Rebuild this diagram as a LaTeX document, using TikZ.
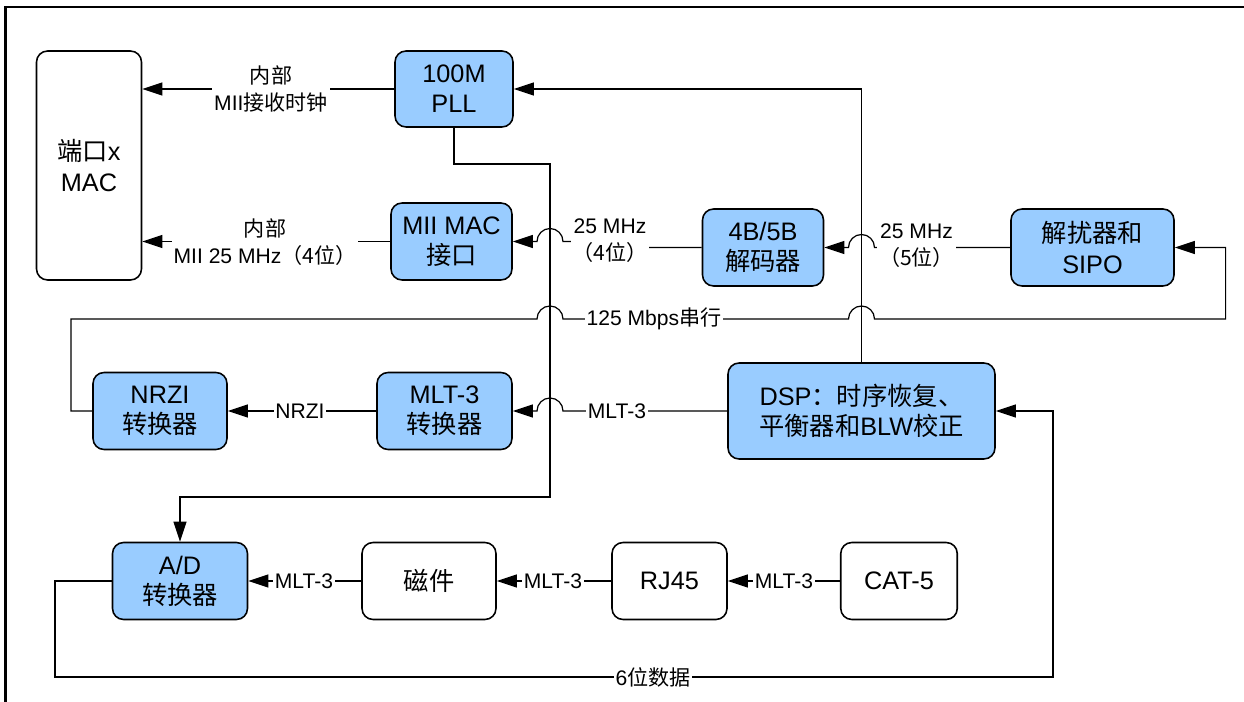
\documentclass[tikz,border=0pt]{standalone}
\usepackage{fontspec}
\setmainfont{Liberation Sans}
\newfontfamily\zhfont{Noto Sans CJK SC}
\newcommand{\zh}[1]{{\zhfont #1}}
\usetikzlibrary{arrows.meta,positioning,calc}
\definecolor{blkblue}{RGB}{153,204,255}
\tikzset{
    blk/.style={draw, line width=0.9pt, rounded corners=0.22cm, fill=blkblue,
        minimum height=1.54cm, inner sep=0pt, align=center,
        font=\fontsize{14.4}{17.2}\selectfont},
    wblk/.style={blk, fill=white},
    lbl/.style={fill=white, inner sep=1pt, align=center,
        font=\fontsize{12}{15.5}\selectfont},
    conn/.style={line width=0.7pt, -{Triangle[length=0.4cm,width=0.26cm]}},
}

\begin{document}
\begin{tikzpicture}[x=0.02cm, y=-0.02cm]
        \def\xa{550}
        \def\xb{861.5}
        \def\hr{0.26cm}

        \useasboundingbox (0,0) rectangle (1244,702);
        \draw[line width=1.3pt] (5.5,702) -- (5.5,7) -- (1244,7);

        % blocks
        \node[wblk, minimum width=2.1cm, minimum height=4.58cm] (mac) at (89,165.5) {\zh{端口}x\\MAC};
        \node[blk, minimum width=2.36cm, minimum height=1.52cm] (pll) at (454,89) {100M\\PLL};
        \node[blk, minimum width=2.42cm] (miimac) at (451.5,241.5) {MII MAC\\\zh{接口}};
        \node[blk, minimum width=2.42cm] (dec) at (763,247.5) {4B/5B\\\zh{解码器}};
        \node[blk, minimum width=3.26cm] (sipo) at (1092.5,247.5) {\zh{解扰器和}\\SIPO};
        \node[blk, minimum width=2.68cm] (nrzi) at (160,411) {NRZI\\\zh{转换器}};
        \node[blk, minimum width=2.7cm] (mlt) at (444.5,411) {MLT-3\\\zh{转换器}};
        \node[blk, minimum width=5.34cm, minimum height=1.92cm] (dsp) at (861.5,411) {DSP\zh{：时序恢复、}\\\zh{平衡器和}BLW\zh{校正}};
        \node[blk, minimum width=2.7cm] (adc) at (180,581) {A/D\\\zh{转换器}};
        \node[wblk, minimum width=2.68cm] (mag) at (429,581) {\zh{磁件}};
        \node[wblk, minimum width=2.3cm] (rj) at (669.5,581) {RJ45};
        \node[wblk, minimum width=2.33cm] (cat) at (899,581) {CAT-5};

        \coordinate (va) at (\xa+13,0);
        \coordinate (wa) at (\xa-13,0);
        \coordinate (vb) at (\xb+13,0);
        \coordinate (wb) at (\xb-13,0);
        \coordinate (jog) at (610,0);
        \coordinate (ka) at (\xa,164);
        \coordinate (kb) at (\xa,497);
        \coordinate (nl) at (71,319);
        \coordinate (nr) at (1225.6,319);
        \coordinate (bl) at (55,677);
        \coordinate (br) at (1053,677);

        \draw[conn] (pll.west) -- (mac.east |- pll.west);
        \draw[conn] (miimac.west) -- (mac.east |- miimac.west);
        \draw[conn] (dec.west) -- (jog |- dec.west) -- (jog |- miimac.east) -- (va |- miimac.east)
            arc[start angle=0, end angle=180, radius=\hr] -- (miimac.east);
        \draw[conn] (sipo.west) -- (vb |- sipo.west)
            arc[start angle=0, end angle=180, radius=\hr] -- (dec.east);
        \draw[conn] (dsp.north) |- (pll.east);
        \draw[conn] (pll.south) |- (ka) -- (kb) -| (adc.north);
        \draw[conn] (nrzi.west) -| (nl) -- (wa |- nl)
            arc[start angle=180, end angle=0, radius=\hr] -- (wb |- nl)
            arc[start angle=180, end angle=0, radius=\hr] -- (nr) |- (sipo.east);
        \draw[conn] (dsp.west) -- (va |- dsp.west)
            arc[start angle=0, end angle=180, radius=\hr] -- (mlt.east);
        \draw[conn] (mlt.west) -- (nrzi.east);
        \draw[conn] (adc.west) -| (bl) -- (br) |- (dsp.east);
        \draw[conn] (mag.west) -- (adc.east);
        \draw[conn] (rj.west) -- (mag.east);
        \draw[conn] (cat.west) -- (rj.east);

        % line labels
        \node[lbl] (clk) at (271,89) {\zh{内部}\\MII\zh{接收时钟}};
        \node[lbl] (mii) at (265,242) {\zh{内部}\\MII 25 MHz\zh{（4位）}};
        \node[lbl] (f4) at (610,240.5) {25 MHz\\\zh{（4位）}};
        \node[lbl] (f5) at (916.5,245.5) {25 MHz\\\zh{（5位）}};
        \node[lbl] (ser) at (654,319) {125 Mbps\zh{串行}};
        \node[lbl] (nz) at (300,411) {NRZI};
        \node[lbl] (m3a) at (617,411) {MLT-3};
        \node[lbl] (m3b) at (304,581) {MLT-3};
        \node[lbl] (m3c) at (553,581) {MLT-3};
        \node[lbl] (m3d) at (784,581) {MLT-3};
        \node[lbl] (six) at (653,677) {6\zh{位数据}};
\end{tikzpicture}
\end{document}
